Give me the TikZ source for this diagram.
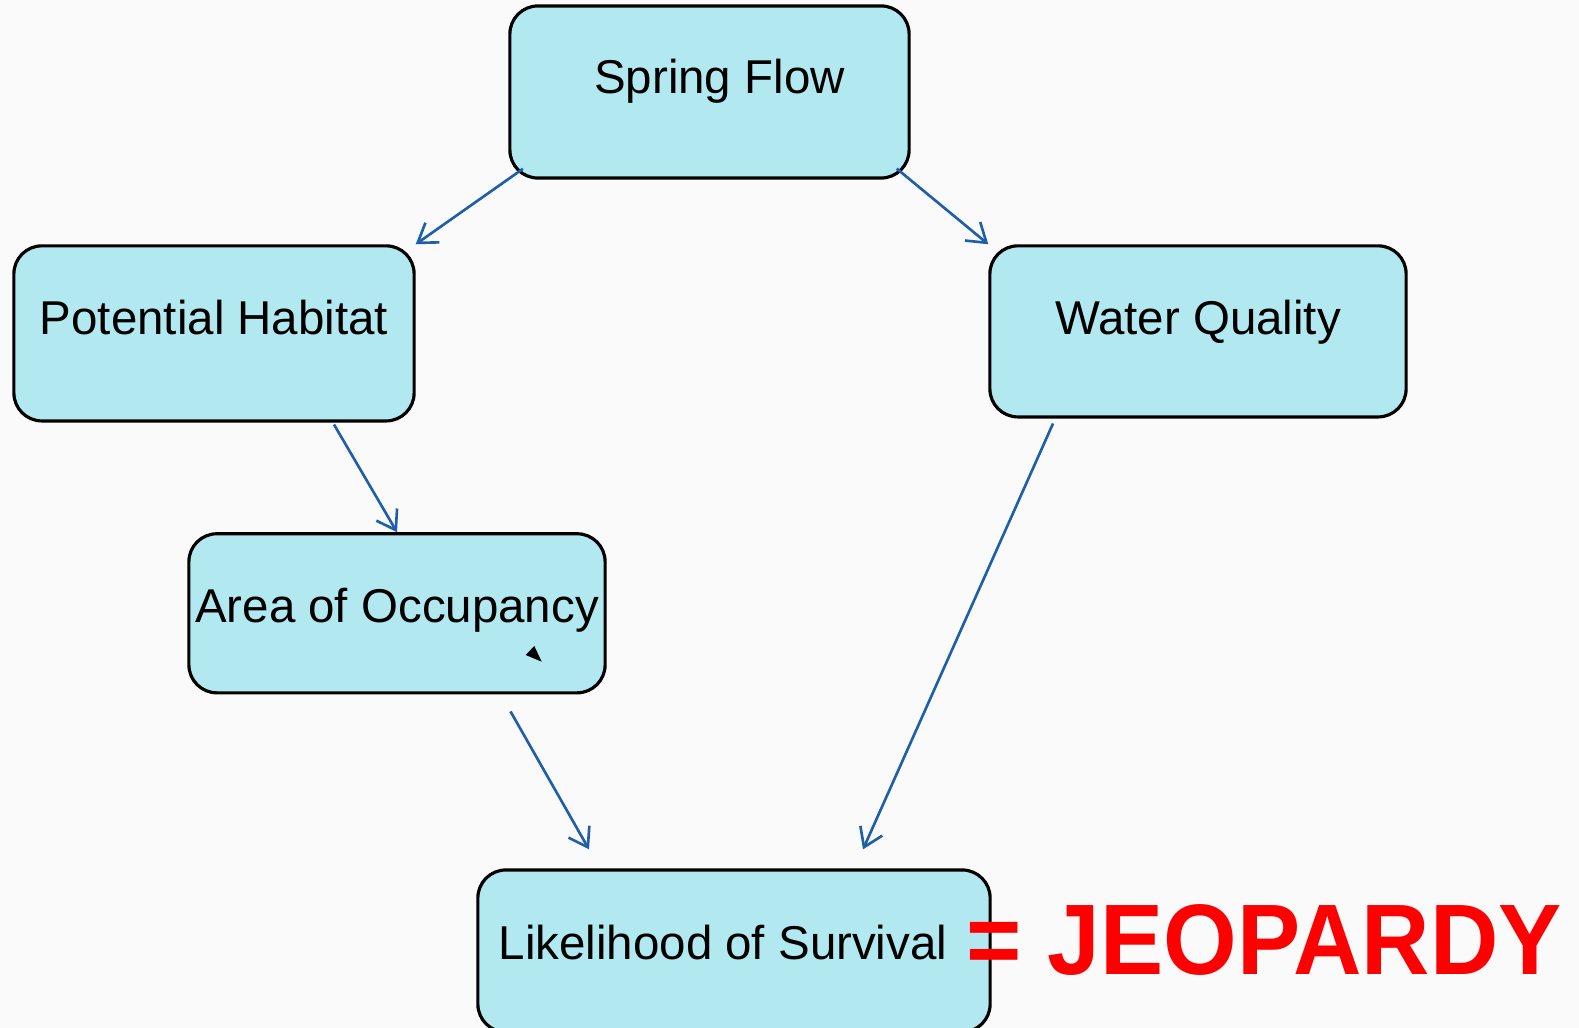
\documentclass[tikz,border=0pt]{standalone}
\usepackage{fontspec}
\setmainfont{Liberation Sans}
\usepackage{tikz}
\usetikzlibrary{arrows.meta, positioning, calc}
\definecolor{boxcyan}{HTML}{B2E9F0}
\definecolor{linkblue}{HTML}{1F5FA8}
\definecolor{pagegray}{HTML}{FAFAFA}
\definecolor{alertred}{HTML}{FF0000}

\tikzset{
  factor/.style={draw=black, line width=0.9pt, fill=boxcyan, rounded corners=0.28cm,
    inner sep=0pt, text height=0.34cm, font=\fontsize{13.5}{16}\selectfont},
  link/.style={draw=linkblue, line width=0.75pt, -{Straight Barb[length=1.8mm, width=2.4mm]}},
}

\begin{document}
\begin{tikzpicture}[x=0.01cm, y=-0.01cm]
  % page
  \fill[pagegray] (0,0) rectangle (1579,1028);
  \useasboundingbox (0,0) rectangle (1579,1028);

  % factors
  \node[factor, minimum width=3.99cm, minimum height=1.72cm, text depth=0.30cm] (spring) at (709.5,92) {\hspace*{0.2cm}Spring Flow};
  \node[factor, minimum width=4.00cm, minimum height=1.75cm, text depth=0.31cm] (habitat) at (214,333.4) {Potential Habitat};
  \node[factor, minimum width=4.16cm, minimum height=1.71cm, text depth=0.27cm] (quality) at (1198,331.4) {Water Quality};
  \node[factor, minimum width=4.16cm, minimum height=1.59cm, text depth=0.16cm] (occupancy) at (397,613.3) {Area of Occupancy};
  \node[factor, minimum width=5.12cm, minimum height=1.62cm, text depth=0.18cm] (survival) at (734,951) {Likelihood of Survival\hspace*{0.22cm}};

  % stray pointer mark
  \fill[black] (525.7,655) -- (534.3,646) -- (541.7,661.7) -- cycle;

  % links
  \draw[link] ([shift={(14.6,-10.8)}]spring.south west) -- (habitat.north east);
  \draw[link] ([shift={(-14,-11)}]spring.south east) -- (quality.north west);
  \draw[link] ([shift={(120,2)}]habitat.south) -- (occupancy.north);
  \draw[link] ([shift={(113.5,17)}]occupancy.south) -- ([shift={(-145,-19)}]survival.north);
  \draw[link] ([shift={(-145,5)}]quality.south) -- ([shift={(129,-19)}]survival.north);

  % verdict
  \node[alertred, inner sep=0pt, text height=0.716cm, text depth=0pt, xscale=0.945,
    font=\fontsize{28.5}{30}\selectfont\bfseries] (verdict) at (1264,939) {= JEOPARDY};
\end{tikzpicture}
\end{document}
